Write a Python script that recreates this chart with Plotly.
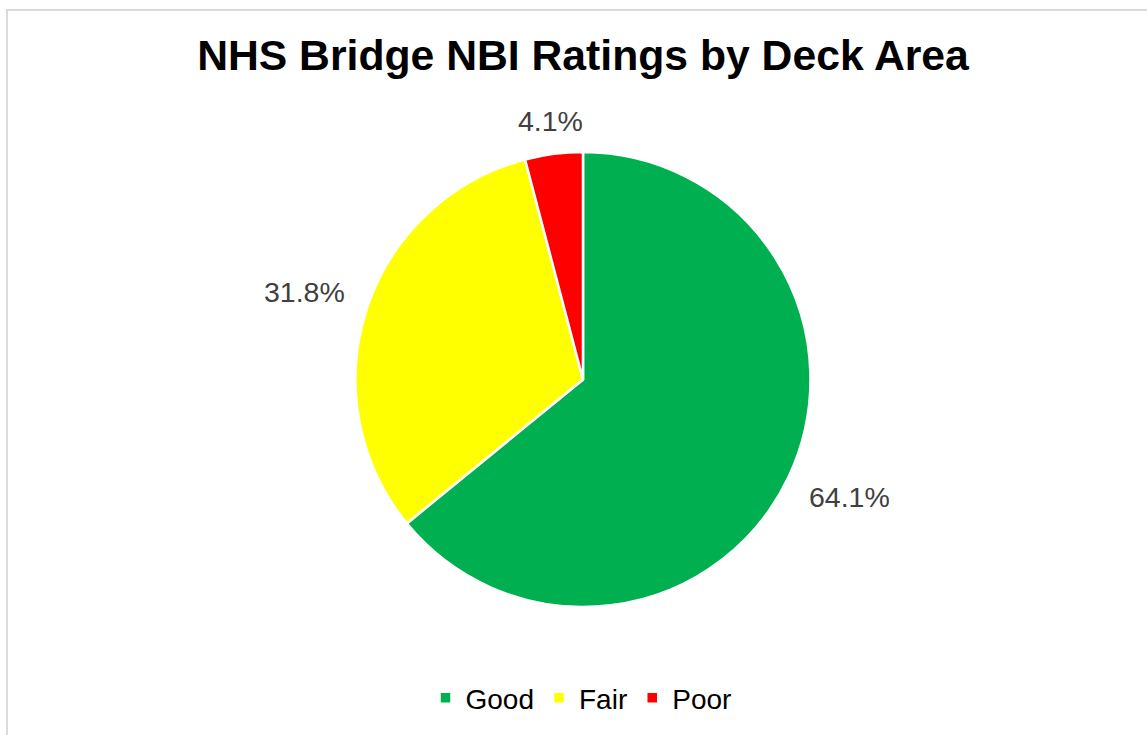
import math
import plotly.graph_objects as go

# NBI condition ratings of NHS bridges, share of total deck area (%)
ratings = ["Good", "Fair", "Poor"]
deck_area_pct = [64.1, 31.8, 4.1]
slice_colors = ["#00b050", "#ffff00", "#ff0000"]

W, H = 1147, 735
FONT = "Arial, Liberation Sans, sans-serif"

# pie geometry in pixels
CX, CY, R = 583, 379.5, 227.5
LABEL_SIZE = 28.5
LABEL_ANCHOR_R = 250  # radius of the point each label box leans against

fig = go.Figure(
    go.Pie(
        labels=ratings,
        values=deck_area_pct,
        sort=False,
        direction="clockwise",
        rotation=0,
        marker=dict(colors=slice_colors, line=dict(color="white", width=2.5)),
        textinfo="none",
        hoverinfo="label+percent",
        domain=dict(x=[(CX - R) / W, (CX + R) / W], y=[1 - (CY + R) / H, 1 - (CY - R) / H]),
    )
)


def glyph_width(text, size):
    # rough Arial advance widths
    em = sum(0.278 if c == "." else 0.889 if c == "%" else 0.556 for c in text)
    return em * size


# data labels placed just outside each slice, along its mid-angle
annotations = []
total = sum(deck_area_pct)
cum = 0.0
for v in deck_area_pct:
    mid = (cum + v / 2) / total * 2 * math.pi  # clockwise from 12 o'clock
    cum += v
    dx, dy = math.sin(mid), -math.cos(mid)
    text = f"{v:.1f}%"
    tw = glyph_width(text, LABEL_SIZE)
    th = 0.72 * LABEL_SIZE
    px, py = CX + LABEL_ANCHOR_R * dx, CY + LABEL_ANCHOR_R * dy
    if abs(dx) > 0.3:
        px += math.copysign(tw / 2, dx)
    py += math.copysign(th / 2, dy)
    annotations.append(
        dict(
            x=px / W,
            y=1 - py / H,
            xref="paper",
            yref="paper",
            text=text,
            showarrow=False,
            xanchor="center",
            yanchor="middle",
            font=dict(family=FONT, size=LABEL_SIZE, color="#404040"),
        )
    )

fig.update_layout(
    width=W,
    height=H,
    margin=dict(l=0, r=0, t=0, b=0),
    paper_bgcolor="white",
    plot_bgcolor="white",
    font=dict(family=FONT, color="black"),
    title=dict(
        text="<b>NHS Bridge NBI Ratings by Deck Area</b>",
        x=583 / W,
        xanchor="center",
        y=1 - 55 / H,
        yanchor="middle",
        font=dict(family=FONT, size=42.7, color="black"),
    ),
    legend=dict(
        orientation="h",
        x=581 / W,
        xanchor="center",
        y=1 - 698 / H,
        yanchor="middle",
        font=dict(family=FONT, size=28, color="black"),
    ),
    showlegend=True,
    annotations=annotations,
    shapes=[
        dict(
            type="rect",
            xref="paper",
            yref="paper",
            x0=7 / W,
            x1=1.02,
            y0=-0.02,
            y1=1 - 10 / H,
            line=dict(color="#d9d9de", width=2),
            fillcolor="rgba(0,0,0,0)",
            layer="below",
        )
    ],
)

fig.write_html("out.html")
